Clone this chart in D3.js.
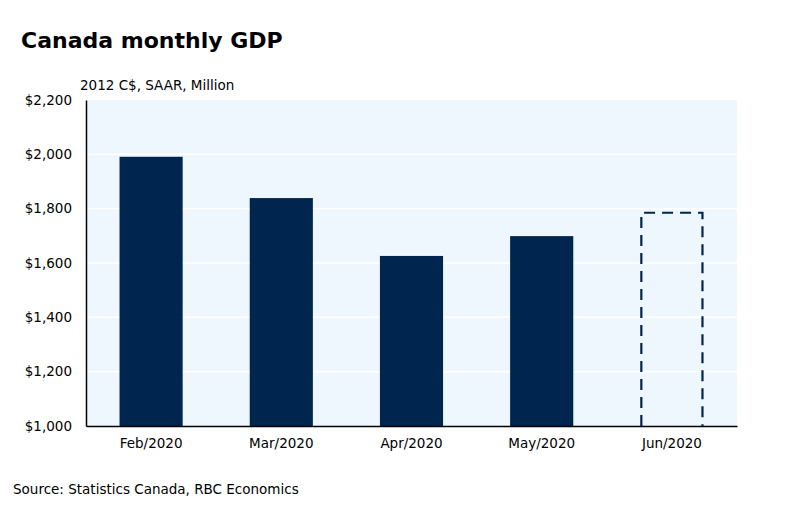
<!DOCTYPE html>
<html>
<head>
<meta charset="utf-8">
<script src="https://cdn.jsdelivr.net/npm/d3@7"></script>
<style>
  body { margin: 0; background: #fff; }
  text { font-family: "DejaVu Sans", Verdana, sans-serif; fill: #000; }
</style>
</head>
<body>
<div id="chart"></div>
<script>
// Data
var months = ["Feb/2020", "Mar/2020", "Apr/2020", "May/2020", "Jun/2020"];
var gdpValues = [1991, 1839, 1626, 1699, 1785];
var isEstimate = [false, false, false, false, true];
var yTicks = [1000, 1200, 1400, 1600, 1800, 2000, 2200];

var svgWidth = 793;
var svgHeight = 508;

var margin = { top: 100, right: 56, bottom: 82, left: 86 };
var chartWidth = svgWidth - margin.left - margin.right;
var chartHeight = svgHeight - margin.top - margin.bottom;

var svg = d3.select("#chart")
  .append("svg")
  .attr("width", svgWidth)
  .attr("height", svgHeight);

// title + unit label + source
svg.append("text")
  .attr("x", 21)
  .attr("y", 48)
  .style("font-size", "22px")
  .style("font-weight", "bold")
  .text("Canada monthly GDP");

svg.append("text")
  .attr("x", 80)
  .attr("y", 90)
  .style("font-size", "13.5px")
  .text("2012 C$, SAAR, Million");

svg.append("text")
  .attr("x", 13)
  .attr("y", 494)
  .style("font-size", "13.5px")
  .text("Source: Statistics Canada, RBC Economics");

var chartGroup = svg.append("g")
  .attr("transform", `translate(${margin.left}, ${margin.top})`);

// scales
var xBand = d3.scaleBand()
  .domain(months)
  .range([0, chartWidth])
  .paddingInner(0.515)
  .paddingOuter(0.2575);

var yLinear = d3.scaleLinear()
  .domain([1000, 2200])
  .range([chartHeight, 0]);

// plot background
chartGroup.append("rect")
  .attr("width", chartWidth)
  .attr("height", chartHeight)
  .attr("fill", "#eff7fe");

// gridlines
chartGroup.selectAll(".grid")
  .data(yTicks.slice(1, -1))
  .enter()
  .append("line")
  .attr("x1", 0)
  .attr("x2", chartWidth)
  .attr("y1", d => yLinear(d))
  .attr("y2", d => yLinear(d))
  .attr("stroke", "#ffffff")
  .attr("stroke-width", 1.5);

var barData = months.map((m, i) => ({ month: m, value: gdpValues[i], est: isEstimate[i] }));

// solid bars
chartGroup.selectAll(".bar")
  .data(barData.filter(d => !d.est))
  .enter()
  .append("rect")
  .attr("class", "bar")
  .attr("x", d => xBand(d.month))
  .attr("y", d => yLinear(d.value))
  .attr("width", xBand.bandwidth())
  .attr("height", d => chartHeight - yLinear(d.value))
  .attr("fill", "#00264f");

// dashed (estimate) bar - open at the bottom
chartGroup.selectAll(".est")
  .data(barData.filter(d => d.est))
  .enter()
  .append("path")
  .attr("class", "est")
  .attr("d", d => {
    var x0 = xBand(d.month) + 1, x1 = xBand(d.month) + xBand.bandwidth() - 1;
    var y0 = chartHeight, y1 = yLinear(d.value);
    return `M${x0},${y0}V${y1}H${x1}V${y0}`;
  })
  .attr("fill", "none")
  .attr("stroke", "#00264f")
  .attr("stroke-width", 2.2)
  .attr("stroke-dasharray", "11,7");

// axes
var leftAxis = d3.axisLeft(yLinear)
  .tickValues(yTicks)
  .tickSize(0)
  .tickPadding(14)
  .tickFormat(d => "$" + d3.format(",")(d));

var bottomAxis = d3.axisBottom(xBand)
  .tickSize(0)
  .tickPadding(12);

var yAxis = chartGroup.append("g")
  .call(leftAxis);

var xAxis = chartGroup.append("g")
  .attr("transform", `translate(0, ${chartHeight})`)
  .call(bottomAxis);

yAxis.select(".domain").attr("stroke", "#000").attr("stroke-width", 1.5);
xAxis.select(".domain").attr("stroke", "#000").attr("stroke-width", 1.5);
yAxis.selectAll("text").style("font-size", "13.5px").style("font-family", "DejaVu Sans");
xAxis.selectAll("text").style("font-size", "13.5px").style("font-family", "DejaVu Sans");
</script>
</body>
</html>
